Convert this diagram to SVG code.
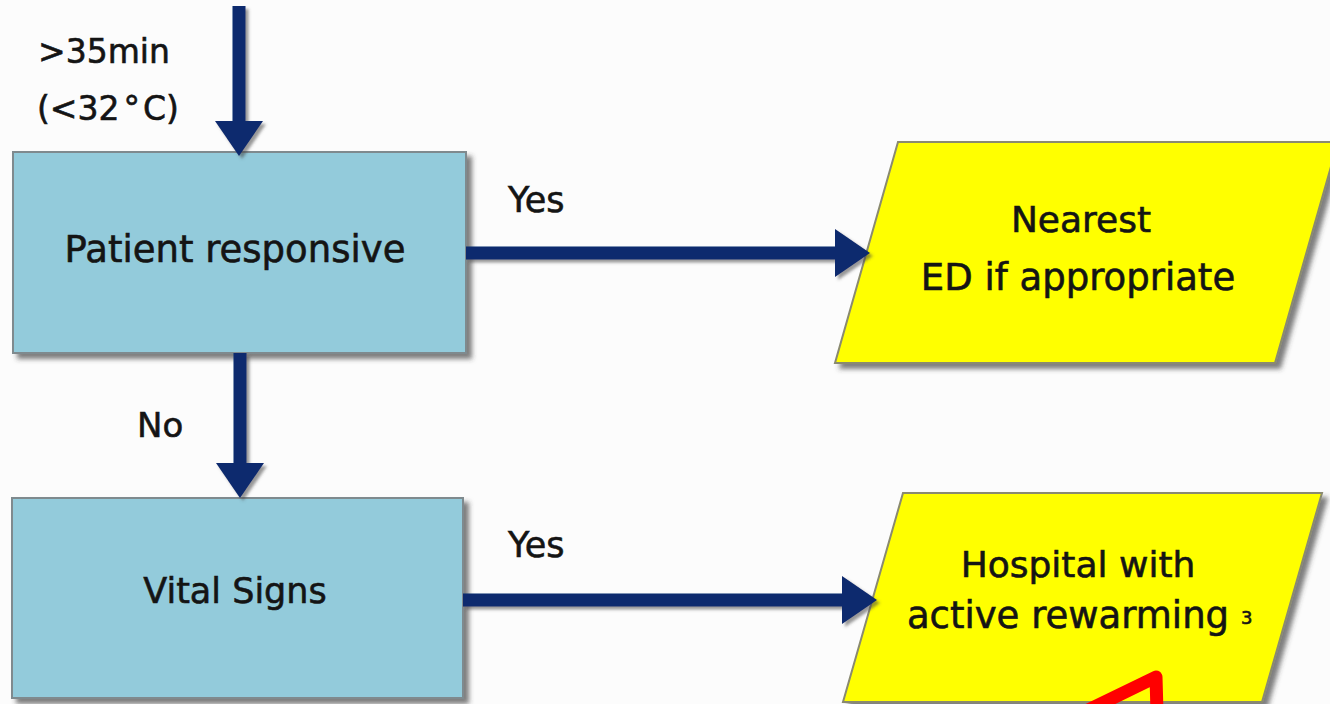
<svg xmlns="http://www.w3.org/2000/svg" width="1330" height="704" viewBox="0 0 1330 704">
  <defs>
    <filter id="sh" x="-10%" y="-10%" width="130%" height="130%">
      <feDropShadow dx="5" dy="5" stdDeviation="2.5" flood-color="#3a3a3a" flood-opacity="0.65"/>
    </filter>
    <filter id="ash" x="-20%" y="-20%" width="150%" height="150%">
      <feDropShadow dx="3" dy="3" stdDeviation="1.8" flood-color="#444" flood-opacity="0.55"/>
    </filter>
    <marker id="head" markerUnits="userSpaceOnUse" markerWidth="36" markerHeight="48" refX="0" refY="24" orient="auto" overflow="visible">
      <path d="M0,0 L35,24 L0,48 Z" fill="#0b2a6e"/>
    </marker>
    <style>
      .box { fill: #93cbdb; stroke: #7f8a8e; stroke-width: 2; }
      .para { fill: #ffff00; stroke: #8a8a70; stroke-width: 2; }
      .t { font-family: "DejaVu Sans", Verdana, sans-serif; fill: #141414; stroke: #141414; stroke-width: 0.6; text-anchor: middle; }
      .lbl { font-family: "DejaVu Sans", Verdana, sans-serif; fill: #141414; stroke: #141414; stroke-width: 0.6; }
      .conn { stroke: #0b2a6e; stroke-width: 13; fill: none; marker-end: url(#head); }
    </style>
  </defs>
  <rect width="1330" height="704" fill="#fcfcfc"/>

  <g id="node-patient-responsive">
    <rect class="box" x="13" y="152" width="453" height="201" filter="url(#sh)"/>
    <text class="t" x="235" y="262" font-size="37">Patient responsive</text>
  </g>

  <g id="node-vital-signs">
    <rect class="box" x="12" y="498" width="451" height="200" filter="url(#sh)"/>
    <text class="t" x="235" y="603" font-size="35">Vital Signs</text>
  </g>

  <g id="node-nearest-ed">
    <polygon class="para" points="898,142 1338,142 1275,363 835,363" filter="url(#sh)"/>
    <text class="t" x="1081" y="232" font-size="36">Nearest</text>
    <text class="t" x="1078" y="290" font-size="37">ED if appropriate</text>
  </g>

  <g id="node-hospital">
    <polygon class="para" points="903,493 1322,493 1262,702 843,702" filter="url(#sh)"/>
    <text class="t" x="1078" y="577" font-size="36">Hospital with</text>
    <text class="t" x="1068" y="628" font-size="37">active rewarming</text>
    <text class="lbl" x="1241" y="624" font-size="18" stroke-width="0.3">3</text>
    <path d="M1084,712 L1156,677 L1157,712" fill="none" stroke="#ff0000" stroke-width="13" stroke-linejoin="round"/>
  </g>

  <g id="connectors" filter="url(#ash)">
    <line class="conn" x1="239" y1="6" x2="239" y2="121"/>
    <line class="conn" x1="240" y1="353" x2="240" y2="463"/>
    <line class="conn" x1="466" y1="253" x2="835" y2="253"/>
    <line class="conn" x1="463" y1="600" x2="842" y2="600"/>
  </g>

  <g id="labels">
    <text class="lbl" x="38" y="63" font-size="33">&gt;35min</text>
    <text class="lbl" x="37" y="120" font-size="33">(&lt;32<tspan dx="4">°</tspan><tspan dx="3">C)</tspan></text>
    <text class="lbl" x="137" y="437" font-size="34">No</text>
    <text class="lbl" x="508" y="212" font-size="35">Yes</text>
    <text class="lbl" x="508" y="557" font-size="35">Yes</text>
  </g>
</svg>
